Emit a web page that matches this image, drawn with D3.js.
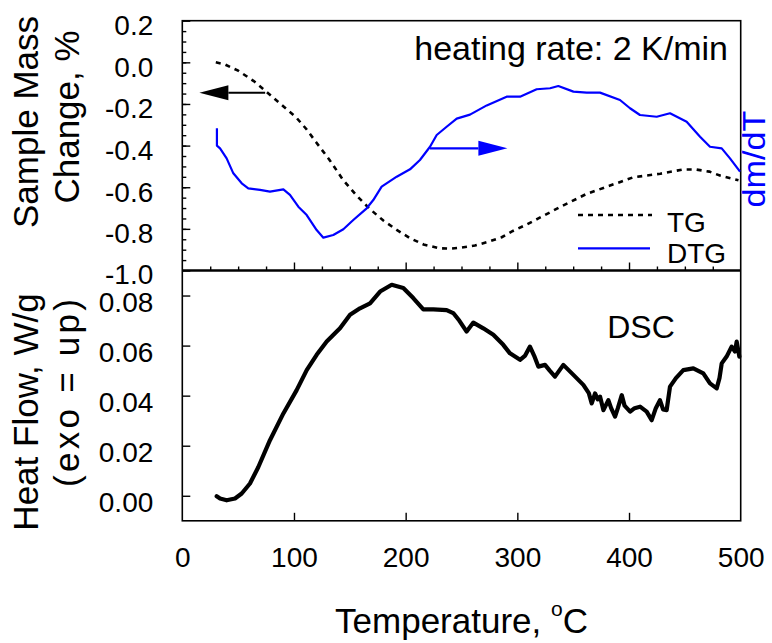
<!DOCTYPE html>
<html>
<head>
<meta charset="utf-8">
<script src="https://cdn.jsdelivr.net/npm/d3@7"></script>
<style>
  html, body { margin: 0; padding: 0; background: #fff; }
  svg { display: block; }
  text { font-family: "Liberation Sans", Arial, sans-serif; }
</style>
</head>
<body>
<svg id="chart" width="772" height="643"></svg>
<script>
// ---- data ----
// TG: sample mass change (%) vs temperature (°C)
const tgTemp = [30, 38, 50, 64, 74, 88, 102, 111, 120, 132, 144, 156, 168, 180, 192, 204, 216, 230, 240, 250, 262, 274, 286, 296, 308, 318, 338, 362, 383, 404, 428, 448, 460, 472, 482, 498];
const tgMass = [0.0, -0.01, -0.04, -0.09, -0.135, -0.2, -0.265, -0.32, -0.385, -0.47, -0.565, -0.64, -0.705, -0.76, -0.805, -0.845, -0.875, -0.893, -0.895, -0.89, -0.88, -0.862, -0.84, -0.81, -0.78, -0.752, -0.696, -0.632, -0.592, -0.552, -0.535, -0.515, -0.515, -0.525, -0.545, -0.567];

// DTG: dm/dT (10^-3 %/K), right axis
const dtgTemp = [31, 31, 33.8, 39.7, 45.7, 53.2, 59.1, 69.6, 78.5, 90.5, 96.4, 103.9, 111.4, 120.3, 126.3, 135.2, 144.2, 153.1, 165.1, 171, 178.5, 192, 203.9, 212.8, 221.8, 227.8, 236.7, 245.7, 257.6, 272.6, 290.4, 302.4, 317.3, 329.3, 336.7, 350.2, 362.1, 374, 391.9, 400.9, 409.8, 424.8, 436.7, 451.6, 463.6, 472.5, 483, 490.4, 499.4];
const dtgRate = [1.39, 0.0, -0.22, -1.02, -2.22, -3.02, -3.42, -3.55, -3.69, -3.5, -3.95, -4.89, -5.56, -6.76, -7.37, -7.16, -6.7, -5.96, -5.02, -4.36, -3.29, -2.49, -1.9, -1.15, -0.09, 0.85, 1.51, 2.16, 2.48, 3.22, 3.92, 3.92, 4.51, 4.59, 4.77, 4.32, 4.24, 4.24, 3.65, 2.99, 2.45, 2.31, 2.59, 1.91, 0.71, -0.09, -0.22, -1.02, -2.09];

// DSC: heat flow (W/g, exo = up)
const dscTemp = [30.8, 33.8, 39.7, 47.2, 53.2, 60.6, 68.1, 78.5, 90.5, 102.4, 111.4, 120.3, 129.3, 141.2, 150.2, 159.1, 168.1, 177.1, 187.5, 197.9, 206.8, 215.8, 224.8, 236.7, 242.6, 248, 254.6, 260.6, 269.5, 278.5, 287.4, 293.4, 302.4, 307, 311.3, 315, 318.8, 324.8, 329, 333.7, 341.2, 350.2, 359.1, 364, 366.6, 369.6, 372, 374.1, 377.1, 381.5, 384, 387.5, 390, 393.5, 396, 401, 405, 409.9, 415.8, 420.3, 424, 427.7, 430.5, 433.7, 436.7, 442, 448.6, 457.6, 466.5, 472.5, 478.5, 481, 483, 487.4, 491.9, 494.9, 496.4, 498.8];
const dscHeat = [-0.0002, -0.0011, -0.0018, -0.0011, 0.0009, 0.0049, 0.0115, 0.0222, 0.0329, 0.0422, 0.0502, 0.0563, 0.0616, 0.0669, 0.0723, 0.0749, 0.0769, 0.0816, 0.0843, 0.083, 0.079, 0.0745, 0.0745, 0.0742, 0.073, 0.07, 0.0656, 0.0692, 0.0669, 0.0643, 0.0603, 0.0569, 0.0543, 0.056, 0.0596, 0.056, 0.0516, 0.0523, 0.05, 0.0476, 0.0523, 0.0483, 0.0443, 0.041, 0.0369, 0.0409, 0.0385, 0.0396, 0.0342, 0.0382, 0.035, 0.0316, 0.035, 0.0402, 0.036, 0.0336, 0.035, 0.0356, 0.0336, 0.0302, 0.035, 0.0382, 0.0345, 0.0342, 0.0436, 0.047, 0.0502, 0.0509, 0.0489, 0.0449, 0.0429, 0.047, 0.0529, 0.0556, 0.0596, 0.0576, 0.0616, 0.0556];

// ---- tick values ----
const tempTicks = [0, 100, 200, 300, 400, 500];
const tempMinorTicks = d3.range(25, 500, 25);
const massTicks = [0.2, 0.0, -0.2, -0.4, -0.6, -0.8, -1.0];
const massMinorTicks = d3.range(-0.95, 0.2, 0.05).map(v => +v.toFixed(2));
const heatTicks = [0.0, 0.02, 0.04, 0.06, 0.08];

// ---- layout ----
const L = 182.3, R = 740.7, T = 20.7, MID = 270.5, B = 520.8;

const svg = d3.select("#chart");

const x = d3.scaleLinear([0, 500], [L, R]);
const yMass = d3.scaleLinear([-1.0, 0.2], [MID, T]);
const yRate = d3.scaleLinear([-10, 10], [MID, T]);
const yHeat = d3.scaleLinear([-0.01, 0.09], [B, MID]);

const tickFont = 28;

// ---- frames ----
const frame = svg.append("g").attr("fill", "none").attr("stroke", "#000");
frame.append("rect").attr("x", L).attr("y", T).attr("width", R - L).attr("height", B - T).attr("stroke-width", 1.6);
frame.append("line").attr("x1", L).attr("x2", R).attr("y1", MID).attr("y2", MID).attr("stroke-width", 2.6);

// ---- axes ----
function styleAxis(g) {
  g.select(".domain").remove();
  g.selectAll(".tick line").attr("stroke", "#000").attr("stroke-width", 1.4);
  g.selectAll(".tick text").attr("fill", "#000").attr("font-size", tickFont)
    .attr("font-family", "Liberation Sans, Arial, sans-serif");
}

// top panel, left axis
svg.append("g").attr("transform", `translate(${L},0)`)
  .call(d3.axisLeft(yMass).tickValues(massMinorTicks).tickSize(-4).tickFormat(""))
  .call(styleAxis);
svg.append("g").attr("transform", `translate(${L},0)`)
  .call(d3.axisLeft(yMass).tickValues(massTicks).tickSize(-8).tickPadding(29).tickFormat(d3.format(".1f")))
  .call(styleAxis)
  .call(g => g.selectAll(".tick text").attr("dy", d => d === -1.0 ? 13 : 14)
    .text(d => d3.format(".1f")(d).replace("−", "-")));

// top panel, bottom edge ticks (inward)
svg.append("g").attr("transform", `translate(0,${MID})`)
  .call(d3.axisBottom(x).tickValues(tempMinorTicks.filter(d => d % 100 !== 0)).tickSize(-4).tickFormat(""))
  .call(styleAxis);
svg.append("g").attr("transform", `translate(0,${MID})`)
  .call(d3.axisBottom(x).tickValues(tempTicks.slice(1, -1)).tickSize(-8).tickFormat(""))
  .call(styleAxis);

// bottom panel, left axis
svg.append("g").attr("transform", `translate(${L},0)`)
  .call(d3.axisLeft(yHeat).tickValues(heatTicks).tickSize(-8).tickPadding(29).tickFormat(d3.format(".2f")))
  .call(styleAxis)
  .call(g => g.selectAll(".tick text").attr("dy", 16));

// bottom panel, temperature axis
svg.append("g").attr("transform", `translate(0,${B})`)
  .call(d3.axisBottom(x).tickValues(tempTicks).tickSize(-8).tickPadding(26).tickFormat(d3.format("d")))
  .call(styleAxis)
  .call(g => g.selectAll(".tick line").filter(d => d === 0 || d === 500).remove())
  .call(g => g.selectAll(".tick text").attr("dy", "0.71em"));

// ---- curves ----
const tgLine = d3.line().x(i => x(tgTemp[i])).y(i => yMass(tgMass[i]));
const dtgLine = d3.line().x(i => x(dtgTemp[i])).y(i => yRate(dtgRate[i]));
const dscLine = d3.line().x(i => x(dscTemp[i])).y(i => yHeat(dscHeat[i]));

svg.append("path").attr("d", tgLine(d3.range(tgTemp.length)))
  .attr("fill", "none").attr("stroke", "#000").attr("stroke-width", 2.6).attr("stroke-dasharray", "5,5");
svg.append("path").attr("d", dtgLine(d3.range(dtgTemp.length)))
  .attr("fill", "none").attr("stroke", "#0000ff").attr("stroke-width", 2.2).attr("stroke-linejoin", "round");
svg.append("path").attr("d", dscLine(d3.range(dscTemp.length)))
  .attr("fill", "none").attr("stroke", "#000").attr("stroke-width", 4.2)
  .attr("stroke-linejoin", "round").attr("stroke-linecap", "round");

// ---- axis arrows ----
function arrow(x0, x1, y, color) {
  const dir = Math.sign(x1 - x0);
  const head = 29, half = 7.5;
  svg.append("line").attr("x1", x0).attr("x2", x1 - dir * head).attr("y1", y).attr("y2", y)
    .attr("stroke", color).attr("stroke-width", 2.2);
  svg.append("path")
    .attr("d", `M${x1},${y}L${x1 - dir * head},${y - half}L${x1 - dir * head},${y + half}Z`)
    .attr("fill", color);
}
arrow(x(74.2), x(15.3), yMass(-0.146), "#000");
arrow(x(221.8), x(291.1), yMass(-0.413), "#0000ff");

// ---- legend ----
const lg = svg.append("g");
lg.append("line").attr("x1", 578).attr("x2", 652).attr("y1", 215).attr("y2", 215)
  .attr("stroke", "#000").attr("stroke-width", 2.6).attr("stroke-dasharray", "5,5");
lg.append("text").attr("x", 667).attr("y", 231.7).attr("font-size", 28).text("TG");
lg.append("line").attr("x1", 578).attr("x2", 650).attr("y1", 248.3).attr("y2", 248.3)
  .attr("stroke", "#0000ff").attr("stroke-width", 2.2);
lg.append("text").attr("x", 667).attr("y", 263.3).attr("font-size", 28).text("DTG");

// ---- annotations ----
svg.append("text").attr("x", 728).attr("y", 60).attr("text-anchor", "end")
  .attr("font-size", 34).text("heating rate: 2 K/min");
svg.append("text").attr("x", 641).attr("y", 338.3).attr("text-anchor", "middle")
  .attr("font-size", 32).text("DSC");

// ---- axis titles ----
const titleFont = 35;
function vTitle(lines) {
  lines.forEach(([txt, bx, yc, len]) => {
    const t = svg.append("text").attr("transform", `translate(${bx},${yc}) rotate(-90)`)
      .attr("text-anchor", "middle").attr("font-size", titleFont).text(txt);
    if (len) t.attr("textLength", len).attr("lengthAdjust", "spacing");
  });
}
vTitle([["Sample Mass", 38, 122], ["Change, %", 79, 117]]);
vTitle([["Heat Flow, W/g", 38, 412], ["(exo = up)", 79, 393, 188]]);

svg.append("text").attr("transform", "translate(765,159) rotate(-90)")
  .attr("text-anchor", "middle").attr("font-size", 31).attr("fill", "#0000ff")
  .attr("textLength", 97).attr("lengthAdjust", "spacingAndGlyphs").text("dm/dT");

const xt = svg.append("text").attr("x", (L + R) / 2).attr("y", 633)
  .attr("text-anchor", "middle").attr("font-size", titleFont);
xt.append("tspan").text("Temperature, ");
xt.append("tspan").attr("font-size", 21).attr("dy", -17).text("o");
xt.append("tspan").attr("dy", 17).text("C");
</script>
</body>
</html>
